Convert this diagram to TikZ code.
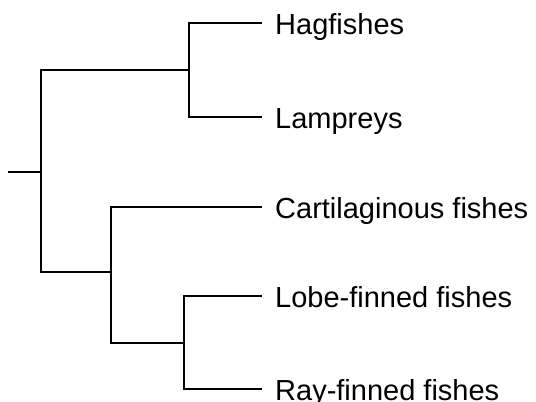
\documentclass[tikz,border=0pt]{standalone}
\usepackage{fontspec}
\setmainfont{Liberation Sans}
\usepackage{tikz}
\usetikzlibrary{positioning,calc}

\begin{document}
\begin{tikzpicture}[
  x=1pt, y=-1pt,
  branch/.style={line width=2pt, black},
  taxon/.style={anchor=base west, inner sep=0pt, font=\fontsize{29}{34}\selectfont},
]
  \useasboundingbox (0,0) rectangle (536,402);

  % Internal nodes
  \coordinate (base) at (8,172);
  \coordinate (n0) at (41,172);
  \coordinate (n1) at (189,70);
  \coordinate (n2) at (111,272);
  \coordinate (n3) at (184,343);

  % Leaf ends
  \coordinate (hag) at (262,23);
  \coordinate (lam) at (262,117);
  \coordinate (car) at (262,207);
  \coordinate (lob) at (262,296);
  \coordinate (ray) at (262,389);

  % Labels
  \node[taxon] (hagfishes) at ($(hag)+(13,11)$) {Hagfishes};
  \node[taxon] (lampreys) at ($(lam)+(13,11)$) {Lampreys};
  \node[taxon] (cartilaginous) at ($(car)+(13,11)$) {Cartilaginous fishes};
  \node[taxon] (lobefinned) at ($(lob)+(13,11)$) {Lobe-finned fishes};
  \node[taxon] (rayfinned) at ($(ray)+(13,11)$) {Ray-finned fishes};

  % Branches
  \draw[branch] (base) -- (n0);
  \draw[branch] (n0) |- (n1);
  \draw[branch] (n0) |- (n2);
  \draw[branch] (n1) |- (hag);
  \draw[branch] (n1) |- (lam);
  \draw[branch] (n2) |- (car);
  \draw[branch] (n2) |- (n3);
  \draw[branch] (n3) |- (lob);
  \draw[branch] (n3) |- (ray);
\end{tikzpicture}
\end{document}
